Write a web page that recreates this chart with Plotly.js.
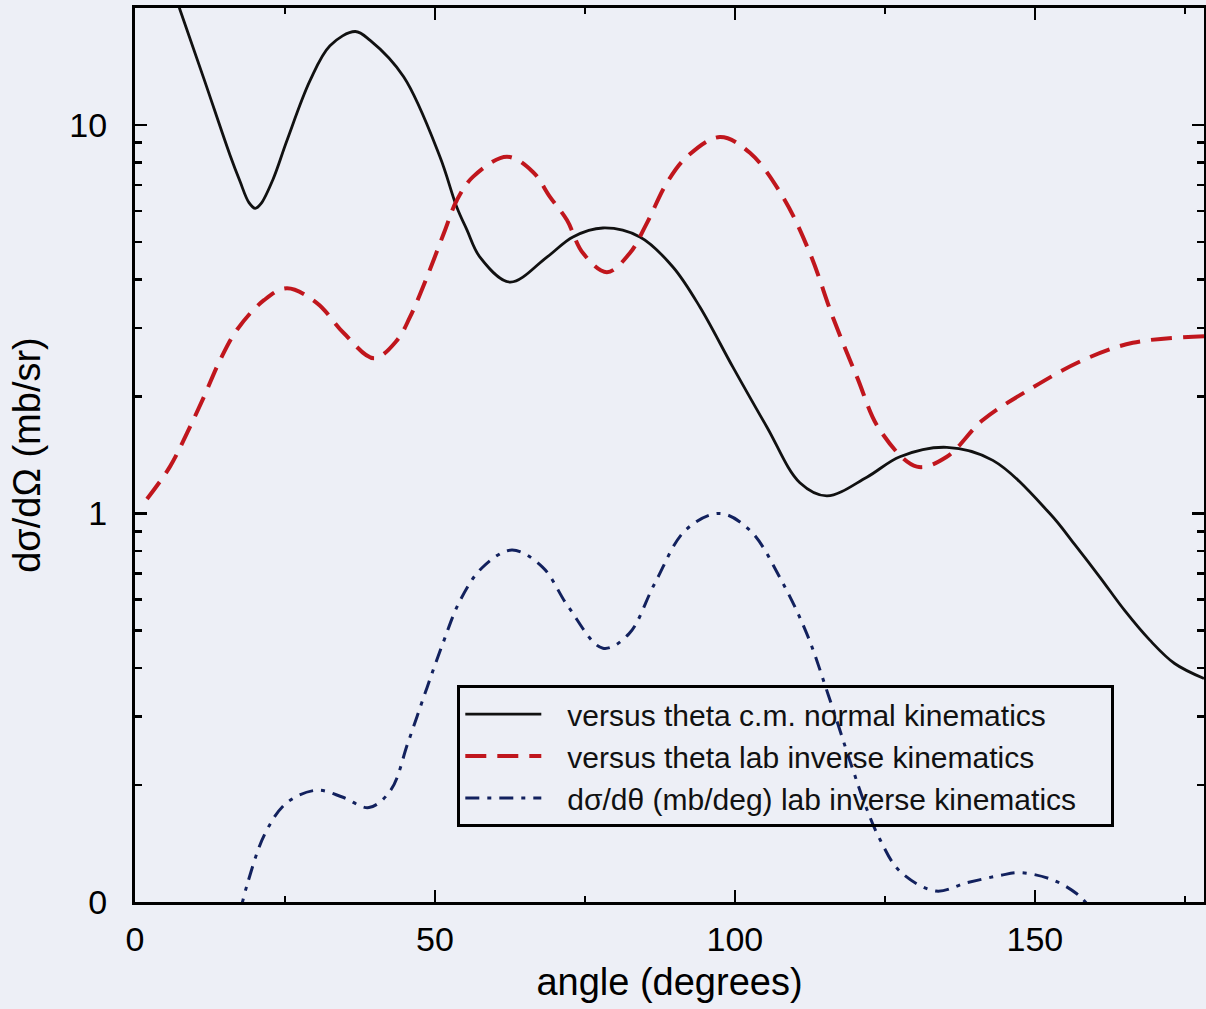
<!DOCTYPE html>
<html>
<head>
<meta charset="utf-8">
<script src="https://cdn.plot.ly/plotly-3.0.1.min.js"></script>
<style>
html,body{margin:0;padding:0;background:#edeff6;}
#chart{width:1206px;height:1009px;}
</style>
</head>
<body>
<div id="chart"></div>
<script>
// angle (degrees) and values
const seriesNames = [
  "versus theta c.m. normal kinematics",
  "versus theta lab inverse kinematics",
  "d\u03c3/d\u03b8 (mb/deg) lab inverse kinematics"
];

const cmAngle = [0, 4, 7.5, 11.45, 15.83, 17.5, 19, 20.05, 21, 23, 25.33, 29.17, 32.5, 36.72, 39.2, 44.78, 50.83, 53.6, 55.33, 57.5, 62.5, 68.67, 73, 78, 84.17, 89.67, 94.17, 99.67, 105.33, 110.83, 115.33, 122, 127.5, 135.33, 143, 152.5, 156.7, 160.83, 165, 169.17, 173.3, 178.2];
const cmValue = [42.7, 28.5, 19.8, 13.2, 8.37, 7.16, 6.31, 6.1, 6.27, 7.24, 9.12, 13.0, 16.0, 17.4, 16.5, 13.3, 8.28, 6.17, 5.37, 4.57, 3.94, 4.57, 5.15, 5.43, 5.15, 4.31, 3.4, 2.38, 1.67, 1.2, 1.11, 1.24, 1.4, 1.48, 1.37, 1.0, 0.83, 0.686, 0.562, 0.472, 0.411, 0.376];

const labAngle = [2.0, 5.83, 8.67, 11.45, 14.17, 17, 21.5, 25.33, 30.33, 34.83, 39.83, 43.67, 45.83, 48.67, 51.5, 53.67, 56.33, 62, 66.33, 69.17, 72, 74.67, 78.67, 82.5, 85.33, 88.67, 92, 97.5, 102.5, 108, 112.5, 116.33, 120.33, 124.17, 130.33, 135.33, 141.33, 149.67, 158, 166.33, 178.2];
const labValue = [1.09, 1.32, 1.61, 1.99, 2.48, 2.97, 3.54, 3.80, 3.48, 2.91, 2.51, 2.79, 3.20, 4.06, 5.27, 6.41, 7.35, 8.28, 7.57, 6.53, 5.69, 4.68, 4.18, 4.68, 5.59, 7.10, 8.28, 9.31, 8.48, 6.53, 4.68, 3.20, 2.25, 1.64, 1.32, 1.40, 1.74, 2.11, 2.48, 2.75, 2.86];

const degAngle = [17.5, 18.78, 21.67, 25.28, 30.33, 34.67, 39, 42.63, 45.5, 48.42, 51.3, 54.17, 57.82, 62.83, 67.93, 72.27, 78, 82.33, 86.67, 91.78, 97.5, 102.6, 107.67, 112, 115.63, 119.25, 121.95, 124.17, 127.5, 133.5, 138.6, 144.17, 147.5, 153, 157, 158.67, 160];
const degValue = [0.094, 0.112, 0.150, 0.180, 0.194, 0.186, 0.175, 0.194, 0.257, 0.347, 0.462, 0.596, 0.724, 0.805, 0.728, 0.574, 0.450, 0.490, 0.662, 0.906, 1.00, 0.902, 0.676, 0.490, 0.339, 0.229, 0.174, 0.145, 0.120, 0.1067, 0.112, 0.117, 0.119, 0.114, 0.105, 0.099, 0.093];

const xTickVals = [0, 50, 100, 150];
const xTickText = ["0", "50", "100", "150"];
const yTickVals = [0.1, 1, 10];
const yTickText = ["0", "1", "10"];

const FONT = "Liberation Sans, Arial, Helvetica, sans-serif";
const BG = "#edeff6";
const GAP = "\u2002\u2009";   // spacing between legend sample and its text
const PAD = "\u2002\u2002";   // right padding inside the legend box

const traces = [
  {x: cmAngle, y: cmValue, name: GAP + seriesNames[0], mode: "lines", legendgroup: "a",
   line: {color: "#111111", width: 2.8, shape: "spline", smoothing: 1}},
  {x: labAngle, y: labValue, name: GAP + seriesNames[1], mode: "lines", legendgroup: "b",
   line: {color: "#c0161d", width: 4, dash: "21px,11px", shape: "spline", smoothing: 1}},
  {x: degAngle, y: degValue, name: GAP + seriesNames[2] + PAD, mode: "lines", legendgroup: "c",
   line: {color: "#12215e", width: 3, dash: "14px,8px,4px,8px", shape: "spline", smoothing: 1}}
];

const layout = {
  width: 1206, height: 1009,
  margin: {l: 135, r: 2, t: 8, b: 107},
  paper_bgcolor: BG, plot_bgcolor: BG,
  font: {family: FONT, color: "#000"},
  showlegend: true,
  hovermode: false,
  legend: {
    x: 0.3015, y: 0.2426, xanchor: "left", yanchor: "top",
    bgcolor: "rgba(0,0,0,0)", bordercolor: "#000", borderwidth: 3,
    font: {family: FONT, size: 30, color: "#111"},
    tracegroupgap: 0, itemwidth: 76, traceorder: "normal"
  },
  xaxis: {
    range: [0, 178.2], showgrid: false, zeroline: false,
    showline: true, linecolor: "#000", linewidth: 3, mirror: "allticks",
    ticks: "inside", ticklen: 12, tickwidth: 2.5, tickcolor: "#000",
    tickmode: "array", tickvals: xTickVals, ticktext: xTickText,
    tickfont: {family: FONT, size: 34, color: "#000"},
    ticklabelstandoff: 5,
    minor: {ticks: "inside", ticklen: 6, tickwidth: 2.5, tickcolor: "#000", dtick: 25, tick0: 0, showgrid: false},
    title: {text: "angle (degrees)", font: {family: FONT, size: 38, color: "#000"}, standoff: 12}
  },
  yaxis: {
    type: "log", range: [-1, 1.301], showgrid: false, zeroline: false,
    showline: true, linecolor: "#000", linewidth: 3, mirror: "allticks",
    ticks: "inside", ticklen: 12, tickwidth: 2.5, tickcolor: "#000",
    tickmode: "array", tickvals: yTickVals, ticktext: yTickText,
    tickfont: {family: FONT, size: 34, color: "#000"},
    ticklabelstandoff: 18,
    minor: {ticks: "inside", ticklen: 7, tickwidth: 2.5, tickcolor: "#000", dtick: "D1", showgrid: false},
    title: {text: "d\u03c3/d\u03a9 (mb/sr)", font: {family: FONT, size: 38, color: "#000"}, standoff: 18}
  }
};

Plotly.newPlot("chart", traces, layout, {displayModeBar: false, staticPlot: true});
</script>
</body>
</html>
